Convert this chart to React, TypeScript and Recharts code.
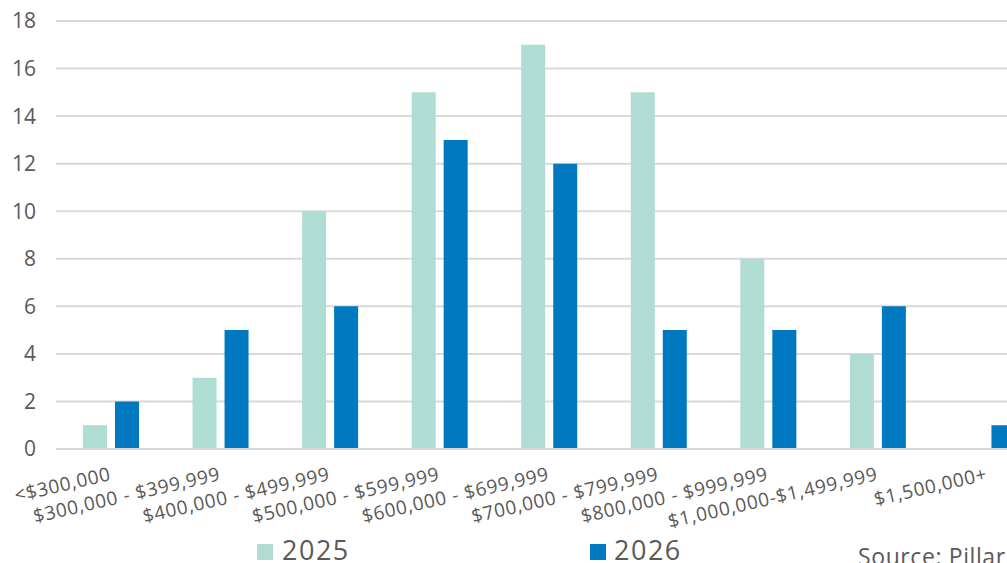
import React from "react";
import { BarChart, Bar, XAxis, YAxis, CartesianGrid } from "recharts";

const categories = [
  "<$300,000",
  "$300,000 - $399,999",
  "$400,000 - $499,999",
  "$500,000 - $599,999",
  "$600,000 - $699,999",
  "$700,000 - $799,999",
  "$800,000 - $999,999",
  "$1,000,000-$1,499,999",
  "$1,500,000+",
];
const values2025 = [1, 3, 10, 15, 17, 15, 8, 4, 0];
const values2026 = [2, 5, 6, 13, 12, 5, 5, 6, 1];
const seriesNames = ["2025", "2026"];
const seriesColors = ["#B0DDD3", "#0079C1"];
const yTicks = [0, 2, 4, 6, 8, 10, 12, 14, 16, 18];
const sourceText = "Source: Pillar";

const data = categories.map((c, i) => ({
  name: c,
  [seriesNames[0]]: values2025[i],
  [seriesNames[1]]: values2026[i],
}));

const FONT = "'Open Sans', sans-serif";
const GRAY = "#595959";

const XTick = (props: any) => {
  const { x, y, payload } = props;
  const ax = x + 1;
  const ay = y + 31;
  return (
    <text
      x={ax}
      y={ay}
      textAnchor="end"
      transform={`rotate(-13, ${ax}, ${ay})`}
      fill={GRAY}
      fontSize={19}
      letterSpacing={0.7}
      fontFamily={FONT}
    >
      {payload.value}
    </text>
  );
};

export default function App() {
  return (
    <div
      style={{
        position: "absolute",
        left: 0,
        top: 0,
        width: 1007,
        height: 563,
        overflow: "hidden",
        background: "#fff",
      }}
    >
      <BarChart
        width={1045}
        height={563}
        data={data}
        margin={{ top: 21, right: 3, left: 0, bottom: 84 }}
        barGap={8}
        barSize={24}
      >
        <CartesianGrid vertical={false} stroke="#D9D9D9" strokeWidth={2} />
        <XAxis
          dataKey="name"
          interval={0}
          height={30}
          tickLine={false}
          tickSize={0}
          tickMargin={0}
          axisLine={{ stroke: "#D9D9D9", strokeWidth: 2 }}
          tick={<XTick />}
        />
        <YAxis
          width={56}
          domain={[0, 18]}
          ticks={yTicks}
          interval={0}
          axisLine={false}
          tickLine={false}
          tickSize={0}
          tickMargin={20}
          tick={{ fill: GRAY, fontSize: 21, fontFamily: FONT }}
        />
        <Bar dataKey={seriesNames[0]} fill={seriesColors[0]} isAnimationActive={false} />
        <Bar dataKey={seriesNames[1]} fill={seriesColors[1]} isAnimationActive={false} />
      </BarChart>
      <svg
        width={1007}
        height={563}
        style={{ position: "absolute", left: 0, top: 0, pointerEvents: "none" }}
      >
        <rect x={257} y={544} width={16} height={16} fill={seriesColors[0]} />
        <text x={282} y={560} fontSize={27} letterSpacing={1.5} fontFamily={FONT} fill={GRAY}>
          {seriesNames[0]}
        </text>
        <rect x={590} y={544} width={16} height={16} fill={seriesColors[1]} />
        <text x={614} y={560} fontSize={27} letterSpacing={1.5} fontFamily={FONT} fill={GRAY}>
          {seriesNames[1]}
        </text>
        <text x={858} y={565} fontSize={23} letterSpacing={0.6} fontFamily={FONT} fill={GRAY}>
          {sourceText}
        </text>
      </svg>
    </div>
  );
}
